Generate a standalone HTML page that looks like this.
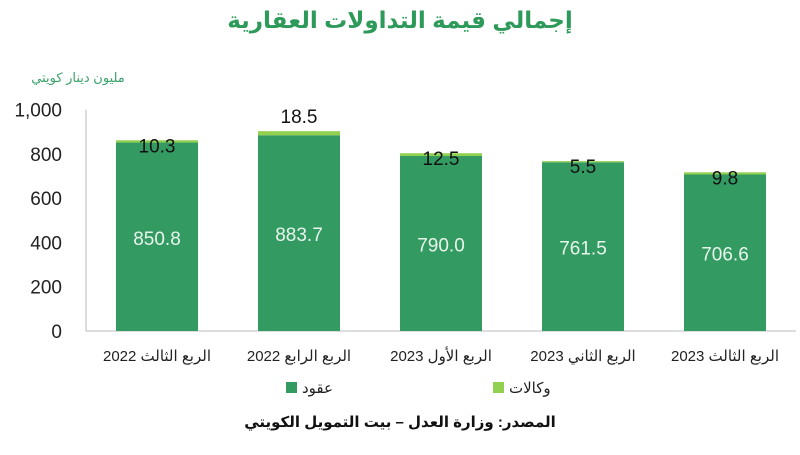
<!DOCTYPE html>
<html><head><meta charset="utf-8"><style>
body{margin:0;background:#fff;width:800px;height:450px;overflow:hidden;font-family:"Liberation Sans","Noto Sans CJK SC",sans-serif}
</style></head><body>
<svg width="800" height="450" xmlns="http://www.w3.org/2000/svg" font-family="Liberation Sans, DejaVu Sans, sans-serif">
<text x="400" y="28" text-anchor="middle" font-size="23" font-weight="bold" fill="#2e9a5a">إجمالي قيمة التداولات العقارية</text>
<text x="78" y="82" text-anchor="middle" font-size="13" fill="#3aa26a">مليون دينار كويتي</text>
<g id="axes"></g>
<g id="bars"></g>
<g>
<rect x="286" y="382" width="11" height="11" fill="#339a62"/>
<text x="302" y="393" font-size="15" fill="#222">عقود</text>
<rect x="493" y="382" width="11" height="11" fill="#92d050"/>
<text x="509" y="393" font-size="15" fill="#222">وكالات</text>
</g>
<text x="400" y="427" text-anchor="middle" font-size="15" font-weight="bold" fill="#111">المصدر: وزارة العدل – بيت التمويل الكويتي</text>
</svg>
<script>
const categories=["الربع الثالث 2022","الربع الرابع 2022","الربع الأول 2023","الربع الثاني 2023","الربع الثالث 2023"];
const contracts=[850.8,883.7,790.0,761.5,706.6];
const agencies=[10.3,18.5,12.5,5.5,9.8];
const yTicks=[0,200,400,600,800,1000];
const yTickLabels=["0","200","400","600","800","1,000"];
const NS="http://www.w3.org/2000/svg";
const y0=331,ppu=0.2215,x0=157,step=142,bw=82;
const Y=v=>y0-v*ppu, X=i=>x0+i*step;
function mk(t,a,p){const e=document.createElementNS(NS,t);for(const k in a)e.setAttribute(k,a[k]);p.appendChild(e);return e;}
const ax=document.getElementById('axes'),bg=document.getElementById('bars');
const yl=mk('line',{x1:86,x2:86,y1:Y(1000),y2:y0,stroke:'#bbb'},ax);


const xl=mk('line',{x1:86,x2:796,y1:y0,y2:y0,stroke:'#bbb'},ax);


yTicks.forEach((v,i)=>{const t=mk('text',{x:62,y:Y(v)+7,'text-anchor':'end','font-size':19,fill:'#222'},ax);t.textContent=yTickLabels[i];

});
categories.forEach((c,i)=>{
const cx=X(i);
const r=mk('rect',{x:cx-bw/2,y:Y(contracts[i]),width:bw,height:contracts[i]*ppu,fill:'#339a62'},bg);


const r2=mk('rect',{x:cx-bw/2,y:Y(contracts[i]+agencies[i]),width:bw,height:agencies[i]*ppu,fill:'#92d050'},bg);


const t=mk('text',{x:cx,y:Y(contracts[i]/2)+8,'text-anchor':'middle','font-size':19,fill:'#e8f5ec'},bg);t.textContent=contracts[i].toFixed(1);


const ty=agencies[i]>15?Y(contracts[i]+agencies[i])-8:Y(contracts[i]+agencies[i])+12;
const t2=mk('text',{x:cx,y:ty,'text-anchor':'middle','font-size':19,fill:'#111'},bg);t2.textContent=agencies[i].toFixed(1);


const l=mk('text',{x:cx,y:361,'text-anchor':'middle','font-size':15,fill:'#222'},bg);l.textContent=c;


});
</script>
</body></html>
